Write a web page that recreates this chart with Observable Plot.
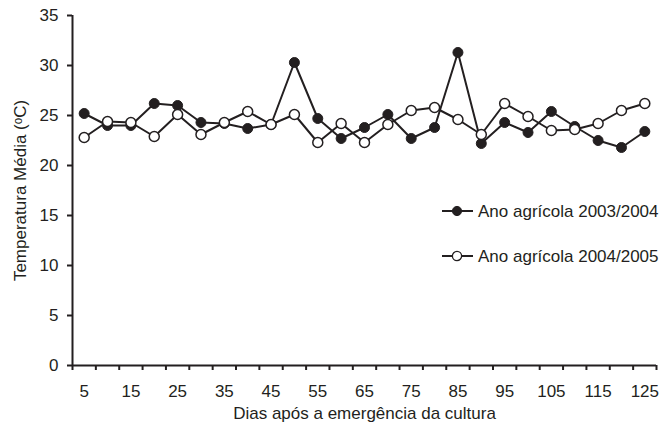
<!DOCTYPE html>
<html><head><meta charset="utf-8">
<script src="https://cdn.jsdelivr.net/npm/d3@7"></script>
<script src="https://cdn.jsdelivr.net/npm/@observablehq/plot@0.6"></script>
<style>
body{margin:0;background:#fff;}
#chart{position:relative;width:660px;height:424px;}
</style></head><body><div id="chart"></div>
<script>
const days = [5,10,15,20,25,30,35,40,45,50,55,60,65,70,75,80,85,90,95,100,105,110,115,120,125];
const temp2003 = [25.2,24.0,24.0,26.2,26.0,24.3,24.2,23.7,24.1,30.3,24.7,22.7,23.8,25.1,22.7,23.8,31.3,22.2,24.3,23.3,25.4,23.9,22.5,21.8,23.4];
const temp2004 = [22.8,24.4,24.3,22.9,25.1,23.1,24.3,25.4,24.1,25.1,22.3,24.2,22.3,24.1,25.5,25.8,24.6,23.1,26.2,24.9,23.5,23.6,24.2,25.5,26.2];
const seriesNames = ["Ano agrícola 2003/2004","Ano agrícola 2004/2005"];
const yTicks = [0,5,10,15,20,25,30,35];
const xLabels = [5,15,25,35,45,55,65,75,85,95,105,115,125];
const xTitle = "Dias após a emergência da cultura";
const yTitle = "Temperatura Média (ᵒC)";

const ink = "#231f20";
const font = "'Liberation Sans', Arial, sans-serif";
const fs = 17;
const xBounds = days.map(d => d - 2.5).concat([days[days.length-1] + 2.5]);
const rows2003 = days.map((d,i) => ({day:d, t:temp2003[i]}));
const rows2004 = days.map((d,i) => ({day:d, t:temp2004[i]}));

const plot = Plot.plot({
  width: 660, height: 424,
  marginLeft: 72, marginRight: 4, marginTop: 15, marginBottom: 59,
  style: {fontFamily: font, fontSize: fs + "px", color: ink, background: "#fff"},
  x: {domain: [xBounds[0], xBounds[xBounds.length-1]]},
  y: {domain: [0, 35]},
  marks: [
    Plot.axisY({ticks: yTicks, tickSize: 5, tickPadding: 9, label: null, stroke: ink, strokeWidth: 2, fill: ink, fontSize: fs}),
    Plot.axisX({ticks: xBounds, tickSize: 5, tickFormat: () => "", label: null, stroke: ink, strokeWidth: 2}),
    Plot.axisX({ticks: xLabels, tickSize: 0, tickPadding: 19, label: null, fill: ink, fontSize: fs}),
    Plot.ruleX([xBounds[0]], {stroke: ink, strokeWidth: 2}),
    Plot.ruleY([0], {stroke: ink, strokeWidth: 2}),
    Plot.line(rows2003, {x: "day", y: "t", stroke: ink, strokeWidth: 2}),
    Plot.line(rows2004, {x: "day", y: "t", stroke: ink, strokeWidth: 2}),
    Plot.dot(rows2003, {x: "day", y: "t", r: 5, fill: ink, stroke: ink, strokeWidth: 1}),
    Plot.dot(rows2004, {x: "day", y: "t", r: 5, fill: "#fff", stroke: ink, strokeWidth: 1.5}),
    Plot.text([xTitle], {text: d => d, frameAnchor: "bottom", dy: 48, lineAnchor: "middle", fill: ink, fontSize: fs}),
    Plot.text([yTitle], {text: d => d, frameAnchor: "left", textAnchor: "middle", dx: -52, rotate: -90, lineAnchor: "middle", fill: ink, fontSize: fs})
  ]
});
document.getElementById("chart").appendChild(plot);

// Legend
const svg = d3.select(plot);
const leg = svg.append("g").attr("font-family", font).attr("font-size", fs).attr("text-anchor", "start");
const legY = [211, 256];
seriesNames.forEach((name, i) => {
  const g = leg.append("g").attr("transform", `translate(0,${legY[i]})`);
  g.append("line").attr("x1", 442).attr("x2", 473).attr("y1", 0).attr("y2", 0).attr("stroke", ink).attr("stroke-width", 2);
  g.append("circle").attr("cx", 457).attr("cy", 0).attr("r", 4.6)
    .attr("fill", i === 0 ? ink : "#fff").attr("stroke", ink).attr("stroke-width", i === 0 ? 1 : 1.3);
  g.append("text").attr("x", 478).attr("y", 0).attr("dy", "0.35em").attr("text-anchor", "start").attr("fill", ink).text(name);
});
</script>
</body></html>
